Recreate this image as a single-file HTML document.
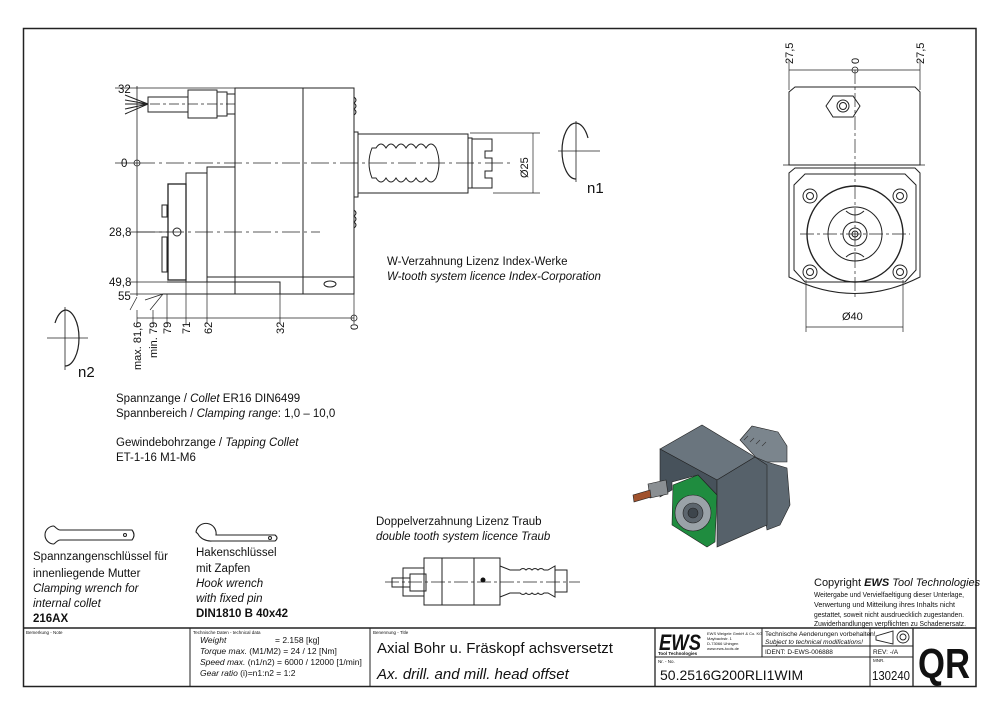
<!DOCTYPE html>
<html><head><meta charset="utf-8"><style>
html,body{margin:0;padding:0;background:#fff}
svg{display:block}
text{font-family:"Liberation Sans",sans-serif;fill:#111}
.i{font-style:italic}
</style></head><body>
<svg width="1000" height="715" viewBox="0 0 1000 715" xmlns="http://www.w3.org/2000/svg">
<g fill="none" stroke="#222" stroke-width="1">
<rect x="23.5" y="28.5" width="952.5" height="658" stroke-width="1.5"/>
<line x1="23" y1="628" x2="976" y2="628" stroke-width="1.5"/>
<line x1="190" y1="628" x2="190" y2="687"/>
<line x1="370" y1="628" x2="370" y2="687"/>
<line x1="655" y1="628" x2="655" y2="687" stroke-width="1.3"/>
<line x1="762" y1="628" x2="762" y2="657"/>
<line x1="870" y1="628" x2="870" y2="687"/>
<line x1="913" y1="628" x2="913" y2="687" stroke-width="1.3"/>
<line x1="655" y1="657" x2="913" y2="657"/>
<line x1="762" y1="646" x2="913" y2="646"/>

<rect x="235" y="88" width="119" height="206"/>
<line x1="303" y1="88" x2="303" y2="294"/>
<polyline points="235,88 235,167 207,167 207,277"/>
<rect x="186" y="173" width="21" height="109"/>
<rect x="168" y="184" width="18" height="96" stroke-width="1.3"/>
<polyline points="167,282 280,282 280,294"/>
<line x1="207" y1="277" x2="354" y2="277"/>
<line x1="163" y1="294" x2="354" y2="294"/>
<ellipse cx="330" cy="284" rx="6" ry="3"/>
<rect x="162" y="205" width="5" height="12"/>
<rect x="162" y="237" width="5" height="35"/>
<circle cx="177" cy="232" r="4"/>
<path d="M354,97 q4,3 0,6 q4,3 0,6 q4,3 0,6"/>
<path d="M354,210 q4,3 0,6 q4,3 0,6 q4,3 0,6"/>
<rect x="148" y="97" width="40" height="15"/>
<rect x="188" y="90" width="29" height="28"/>
<rect x="217" y="92" width="10" height="24"/>
<rect x="227" y="94" width="8" height="20"/>
<path d="M148,104 L125,95 M148,104 L125,100 M148,104 L125,104 M148,104 L125,109 M148,104 L125,114"/>
<rect x="354" y="132" width="4" height="65"/>
<rect x="358" y="134" width="110" height="59"/>
<path d="M372,148 h4 q5,-8 10,0 q5,-8 10,0 q5,-8 10,0 q5,-8 10,0 q5,-8 10,0 q5,-8 10,0 q6,15 0,30 q-5,8 -10,0 q-5,8 -10,0 q-5,8 -10,0 q-5,8 -10,0 q-5,8 -10,0 q-5,8 -10,0 h-4 q-6,-15 0,-30z"/>
<rect x="468" y="138" width="4" height="50"/>
<path d="M472,139 h20 v12 h-7 v7 h7 v13 h-7 v7 h7 v10 h-20z"/>
<line x1="137" y1="163" x2="510" y2="163" stroke-dasharray="18,4,3,4" stroke-width="0.8"/>
<line x1="137" y1="232" x2="320" y2="232" stroke-dasharray="18,4,3,4" stroke-width="0.8"/>
<line x1="150" y1="104" x2="235" y2="104" stroke-dasharray="10,3,3,3" stroke-width="0.7"/>
<line x1="137" y1="86" x2="137" y2="296" stroke-width="0.8"/>
<line x1="115" y1="88" x2="235" y2="88" stroke-width="0.7"/>
<line x1="115" y1="163" x2="137" y2="163" stroke-width="0.7"/>
<line x1="130" y1="232" x2="168" y2="232" stroke-width="0.7"/>
<line x1="130" y1="282" x2="167" y2="282" stroke-width="0.7"/>
<line x1="130" y1="294" x2="163" y2="294" stroke-width="0.7"/>
<circle cx="137" cy="163" r="3" stroke-width="0.8"/>
<path d="M137,297 L130,310 M163,294 L150,310 M163,294 L145,300" stroke-width="0.7"/>
<line x1="137" y1="318" x2="354" y2="318" stroke-width="0.8"/>
<path d="M137,310 v14 M153,310 v14 M167,294 v30 M186,282 v42 M207,282 v42 M280,294 v30 M354,294 v30" stroke-width="0.7"/>
<circle cx="354" cy="318" r="3" stroke-width="0.8"/>
<path d="M470,133 H540 M493,193 H540 M533,133 V193" stroke-width="0.7"/>
<path d="M576,123 A14,28 0 0 0 576,179" stroke-width="1.2"/>
<path d="M576,123 A14,28 0 0 1 588,138" stroke-width="1.2"/>
<path d="M558,151 H600 M576,121 V182" stroke-width="0.8"/>
<path d="M65,310 A14,28 0 0 1 65,366" stroke-width="1.2"/>
<path d="M65,310 A14,28 0 0 0 55,323" stroke-width="1.2"/>
<path d="M47,338 H88 M65,307 V370" stroke-width="0.8"/>

<path d="M789,70 H920 M789,60 V90 M920,60 V90" stroke-width="0.7"/>
<circle cx="855" cy="70" r="3" stroke-width="0.8"/>
<line x1="855" y1="70" x2="855" y2="300" stroke-dasharray="14,3,3,3" stroke-width="0.7"/>
<path d="M795,87 H915 L920,92 V165 H789 V92 Z"/>
<polygon points="833,96 853,96 860,106 853,117 833,117 826,106"/>
<circle cx="843" cy="106" r="6"/><circle cx="843" cy="106" r="3.5"/>
<line x1="783" y1="165" x2="925" y2="165" stroke-width="0.8"/>
<path d="M795,168 H915 L920,173 V277 Q855,310 789,277 V173 Z"/>
<path d="M805,174 H905 L916,185 V270 L905,282 H805 L794,270 V185 Z"/>
<circle cx="855" cy="234" r="48" stroke-width="1.4"/>
<circle cx="855" cy="234" r="27"/>
<circle cx="855" cy="234" r="12"/><circle cx="855" cy="234" r="6"/><circle cx="855" cy="234" r="3"/>
<path d="M846,211 q9,8 18,0 M846,257 q9,-8 18,0"/>
<g><circle cx="810" cy="196" r="7"/><circle cx="810" cy="196" r="3.5"/>
<circle cx="900" cy="196" r="7"/><circle cx="900" cy="196" r="3.5"/>
<circle cx="810" cy="272" r="7"/><circle cx="810" cy="272" r="3.5"/>
<circle cx="900" cy="272" r="7"/><circle cx="900" cy="272" r="3.5"/></g>
<line x1="800" y1="234" x2="910" y2="234" stroke-dasharray="14,3,3,3" stroke-width="0.7"/>
<path d="M806,280 V332 M903,280 V332 M806,327 H903" stroke-width="0.7"/>

<!-- wrenches -->
<path d="M54,526 A9,9 0 1 0 54,544 M54,526 Q58,530 60,530 H132 Q136,535 132,540 H60 Q58,540 54,544" stroke-width="1.1"/>
<circle cx="125" cy="535" r="1.5"/>
<path d="M196,532 A10,10 0 1 1 216,535 H275 Q279,538 275,541 H212 A14,12 0 0 1 198,534 Z" stroke-width="1.1"/>
<circle cx="270" cy="538" r="1.5"/>

<rect x="424" y="558" width="76" height="47"/>
<line x1="442" y1="558" x2="442" y2="605"/>
<line x1="474" y1="558" x2="474" y2="605"/>
<rect x="403" y="568" width="21" height="28"/>
<rect x="392" y="578" width="18" height="9"/>
<rect x="410" y="574" width="16" height="17"/>
<path d="M500,566 L510,570 H520 q3,-3 6,0 q3,-3 6,0 q3,-3 6,0 q3,-3 6,0 H548 L555,566 V597 L548,593 H544 q-3,3 -6,0 q-3,3 -6,0 q-3,3 -6,0 q-3,3 -6,0 H510 L500,597 Z"/>
<rect x="555" y="570" width="12" height="22"/>
<line x1="385" y1="582" x2="580" y2="582" stroke-dasharray="14,3,3,3" stroke-width="0.7"/>
</g>
<circle cx="483" cy="580" r="2.5" fill="#111"/>

<!-- 3D render -->
<g stroke="#222" stroke-width="0.6">
<polygon points="740,440 752,426 778,432 787,446 787,462 760,462" fill="#7b858d"/>
<path d="M744,440 l4,-4 m2,6 l4,-4 m2,6 l4,-4 m2,6 l4,-4" stroke="#333" fill="none"/>
<polygon points="755,457 767,462 787,468 790,505 780,525 767,530" fill="#5e6972"/>
<polygon points="660,449 702,425 755,457 717,480" fill="#6a757e"/>
<polygon points="660,449 717,480 717,495 698,475 672,482 672,490 660,497" fill="#47525b"/>
<polygon points="717,480 755,457 767,465 767,525 717,547" fill="#56616a"/>
<polygon points="673,485 698,475 717,495 715,542 707,547 672,525" fill="#1f8c3f"/>
<circle cx="693" cy="513" r="18" fill="#9aa2a8"/>
<circle cx="693" cy="513" r="10" fill="#5c656d"/>
<circle cx="693" cy="513" r="5" fill="#3d454c"/>
<polygon points="648,484 666,480 668,494 650,498" fill="#8a8f93"/>
<polygon points="633,495 650,490 651,497 634,502" fill="#a0522d"/>
</g>

<g font-size="11.5">
<text x="118" y="93">32</text>
<text x="121" y="167">0</text>
<text x="109" y="236">28,8</text>
<text x="109" y="286">49,8</text>
<text x="118" y="300">55</text>
<text x="387" y="265">W-Verzahnung Lizenz Index-Werke</text>
<text x="387" y="280" class="i">W-tooth system licence Index-Corporation</text>
<text x="116" y="402">Spannzange / <tspan class="i">Collet</tspan>   ER16   DIN6499</text>
<text x="116" y="417">Spannbereich / <tspan class="i">Clamping range</tspan>: 1,0 – 10,0</text>
<text x="116" y="446">Gewindebohrzange / <tspan class="i">Tapping Collet</tspan></text>
<text x="116" y="461">ET-1-16   M1-M6</text>
<text x="33" y="560">Spannzangenschlüssel für</text>
<text x="33" y="577">innenliegende Mutter</text>
<text x="33" y="592" class="i">Clamping wrench for</text>
<text x="33" y="607" class="i">internal collet</text>
<text x="33" y="622" font-weight="bold">216AX</text>
<text x="196" y="556">Hakenschlüssel</text>
<text x="196" y="572">mit Zapfen</text>
<text x="196" y="587" class="i">Hook wrench</text>
<text x="196" y="602" class="i">with fixed pin</text>
<text x="196" y="617" font-weight="bold">DIN1810 B 40x42</text>
<text x="376" y="525">Doppelverzahnung Lizenz Traub</text>
<text x="376" y="540" class="i">double tooth system licence Traub</text>
</g>
<text x="587" y="193" font-size="15">n1</text>
<text x="78" y="377" font-size="15">n2</text>
<g font-size="11">
<text transform="translate(141,370) rotate(-90)">max. 81,6</text>
<text transform="translate(157,358) rotate(-90)">min.  79</text>
<text transform="translate(171,334) rotate(-90)">79</text>
<text transform="translate(190,334) rotate(-90)">71</text>
<text transform="translate(212,334) rotate(-90)">62</text>
<text transform="translate(284,334) rotate(-90)">32</text>
<text transform="translate(358,330) rotate(-90)">0</text>
<text transform="translate(528,178) rotate(-90)">Ø25</text>
<text transform="translate(793,64) rotate(-90)">27,5</text>
<text transform="translate(859,64) rotate(-90)">0</text>
<text transform="translate(924,64) rotate(-90)">27,5</text>
<text x="842" y="320">Ø40</text>
</g>

<text x="814" y="586" font-size="11">Copyright <tspan font-weight="bold" class="i">EWS</tspan> <tspan class="i">Tool Technologies</tspan></text>
<g font-size="7.2">
<text x="814" y="597" textLength="150" lengthAdjust="spacingAndGlyphs">Weitergabe und Vervielfaeltigung dieser Unterlage,</text>
<text x="814" y="607">Verwertung und Mitteilung ihres Inhalts nicht</text>
<text x="814" y="617" textLength="150" lengthAdjust="spacingAndGlyphs">gestattet, soweit nicht ausdruecklich zugestanden.</text>
<text x="814" y="626" textLength="152" lengthAdjust="spacingAndGlyphs">Zuwiderhandlungen verpflichten zu Schadenersatz.</text>
</g>

<g font-size="4.5">
<text x="26" y="634">Bemerkung - Note</text>
<text x="193" y="634">Technische Daten - technical data</text>
<text x="373" y="634">Benennung - Title</text>
<text x="658" y="663">Nr. - No.</text>
<text x="873" y="662">MNR.</text>
</g>
<g font-size="8.5">
<text x="200" y="643" class="i">Weight</text><text x="275" y="643">=  2.158 [kg]</text>
<text x="200" y="654"><tspan class="i">Torque max.</tspan> (M1/M2) =  24 / 12 [Nm]</text>
<text x="200" y="665"><tspan class="i">Speed max.</tspan>  (n1/n2)  =  6000 / 12000 [1/min]</text>
<text x="200" y="676"><tspan class="i">Gear ratio</tspan>  (i)=n1:n2 =  1:2</text>
</g>
<text x="377" y="653" font-size="15">Axial Bohr u. Fräskopf achsversetzt</text>
<text x="377" y="679" font-size="15" class="i">Ax. drill. and mill. head offset</text>
<text x="659" y="650" font-size="22" font-weight="bold" font-style="italic" textLength="42" lengthAdjust="spacingAndGlyphs">EWS</text>
<text x="658" y="655" font-size="4.5" font-weight="bold">Tool Technologies</text>
<g font-size="4"><text x="707" y="635">EWS Weigele GmbH &amp; Co. KG</text><text x="707" y="640">Maybachstr. 1</text><text x="707" y="645">D-73066 Uhingen</text><text x="707" y="650">www.ews-tools.de</text></g>
<text x="765" y="636" font-size="6.5">Technische Aenderungen vorbehalten!</text>
<text x="765" y="644" font-size="6.5" class="i">Subject to technical modifications!</text>
<text x="765" y="654" font-size="6.5">IDENT:  D-EWS-006888</text>
<text x="873" y="654" font-size="6.5">REV:  -/A</text>
<text x="660" y="680" font-size="14">50.2516G200RLI1WIM</text>
<text x="872" y="680" font-size="13" textLength="38" lengthAdjust="spacingAndGlyphs">130240</text>
<text x="918" y="678" font-size="42" font-weight="bold" textLength="52" lengthAdjust="spacingAndGlyphs">QR</text>
<g fill="none" stroke="#222" stroke-width="0.9">
<path d="M876,636 L893,631 V644 L876,640 Z"/>
<circle cx="903" cy="637" r="6"/><circle cx="903" cy="637" r="3"/>
</g>
</svg>
</body></html>
